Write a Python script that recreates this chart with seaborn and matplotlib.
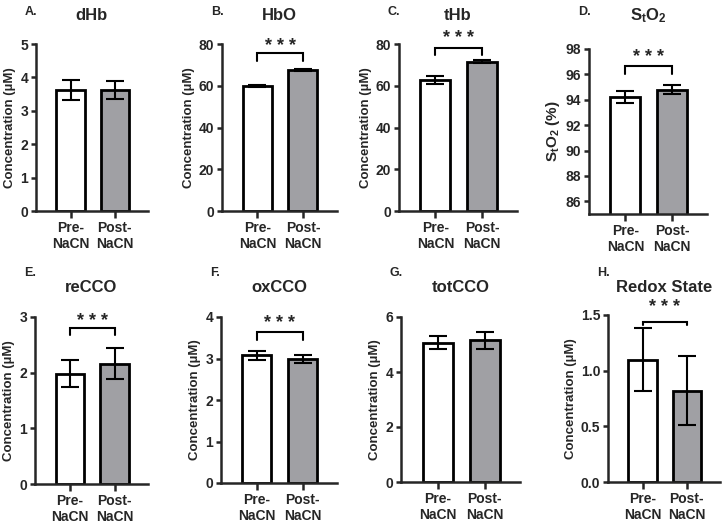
import matplotlib
matplotlib.use("Agg")
import matplotlib.pyplot as plt
import numpy as np
import pandas as pd
import seaborn as sns

# Datos (media y error por condición)
groups = ["Pre-\nNaCN", "Post-\nNaCN"]
letters = ["A.", "B.", "C.", "D.", "E.", "F.", "G.", "H."]
titles = ["dHb", "HbO", "tHb", "S$_t$O$_2$", "reCCO", "oxCCO", "totCCO", "Redox State"]
ylabels = ["Concentration (µM)"] * 3 + ["S$_t$O$_2$ (%)"] + ["Concentration (µM)"] * 4
pre_mean = [3.62, 60.0, 62.8, 94.25, 1.98, 3.08, 5.07, 1.10]
post_mean = [3.62, 67.5, 71.6, 94.80, 2.16, 2.98, 5.15, 0.82]
pre_err = [0.30, 0.5, 1.8, 0.48, 0.24, 0.11, 0.25, 0.28]
post_err = [0.27, 0.5, 0.8, 0.38, 0.28, 0.10, 0.30, 0.31]
ylims = [(0, 5), (0, 80), (0, 80), (85, 98), (0, 3), (0, 4), (0, 6), (0, 1.5)]
yticks = [np.arange(0, 5.1, 1), np.arange(0, 81, 20), np.arange(0, 81, 20),
          np.arange(86, 98.1, 2), np.arange(0, 3.1, 1), np.arange(0, 4.1, 1),
          np.arange(0, 6.1, 2), np.arange(0, 1.51, 0.5)]
tick_fmt = ["{:.0f}"] * 7 + ["{:.1f}"]
# Corchete de significancia: (altura, altura patas, altura asteriscos) o None
brackets = [None, (75.7, 72.0, 81.0), (78.0, 74.7, 85.0), (96.67, 96.05, 97.7),
            (2.80, 2.68, 3.0), (3.64, 3.45, 3.95), None, (1.44, 1.41, 1.61)]

colors = ["white", "#a0a0a4"]

sns.set_style("ticks")
plt.rcParams["font.family"] = ["Liberation Sans", "DejaVu Sans"]
plt.rcParams["font.weight"] = "bold"
plt.rcParams["mathtext.fontset"] = "custom"
plt.rcParams["mathtext.rm"] = "Liberation Sans:bold"
plt.rcParams["mathtext.it"] = "Liberation Sans:bold"
plt.rcParams["mathtext.default"] = "rm"

W, H = 722, 525
fig = plt.figure(figsize=(W / 100, H / 100), dpi=100)

# Posición de cada panel en píxeles: izquierda, derecha, arriba, abajo
boxes = [(36, 148, 44, 211), (222, 337, 44, 211), (399, 517, 44, 211), (589, 707, 49, 214),
         (35, 148, 317, 484), (221, 337, 317, 483), (401, 520, 317, 482), (608, 720, 315, 482)]

for i in range(8):
    l, r, t, b = boxes[i]
    ax = fig.add_axes([l / W, 1 - b / H, (r - l) / W, (b - t) / H])
    df = pd.DataFrame({"group": groups, "value": [pre_mean[i], post_mean[i]]})
    sns.barplot(data=df, x="group", y="value", hue="group", palette=colors, legend=False,
                edgecolor="black", linewidth=2, width=0.64, errorbar=None, ax=ax)
    ax.errorbar([0, 1], [pre_mean[i], post_mean[i]], yerr=[pre_err[i], post_err[i]],
                fmt="none", ecolor="black", elinewidth=1.5, capsize=6.5, capthick=1.5, zorder=3)
    ax.set_xlim(-0.78, 1.75)
    ax.set_ylim(*ylims[i])
    ax.set_yticks(yticks[i])
    ax.set_yticklabels([tick_fmt[i].format(v) for v in yticks[i]])
    ax.set_xlabel("")
    ax.set_ylabel(ylabels[i], fontsize=11 if i == 3 else 9.5, fontweight="bold", labelpad=3)
    sns.despine(ax=ax)
    for s in ["left", "bottom"]:
        ax.spines[s].set_linewidth(1.8)
    ax.tick_params(axis="y", length=3.5, width=1.8, labelsize=10, pad=2)
    ax.tick_params(axis="x", length=5, width=1.8, labelsize=10, pad=2)
    for lab in ax.get_xticklabels() + ax.get_yticklabels():
        lab.set_fontweight("bold")

    cx = (l + r) / 2
    ty = 16 if i < 4 else 288
    fig.text(cx / W, 1 - ty / H, titles[i], ha="center", va="center",
             fontsize=12, fontweight="bold")
    fig.text((l - 11) / W, 1 - (12 if i < 4 else 273) / H, letters[i], ha="left",
             va="center", fontsize=9, fontweight="bold")

    if brackets[i] is not None:
        top, leg, star = brackets[i]
        ax.plot([0, 0, 1, 1], [leg, top, top, leg], color="black", lw=1.5,
                clip_on=False, solid_joinstyle="miter")
        ax.annotate("* * *", xy=(0.5, star), xytext=(0, -3.5), textcoords="offset points",
                    ha="center", va="center", fontsize=13, fontweight="bold",
                    annotation_clip=False)

fig.savefig("out.png", dpi=100)
